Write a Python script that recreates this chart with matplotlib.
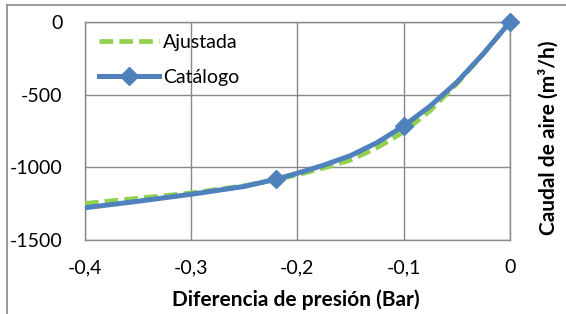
import matplotlib
matplotlib.use('Agg')
import matplotlib.pyplot as plt
from matplotlib.lines import Line2D

# Catalog curve and its marked points
cat_x = [-0.4, -0.35, -0.3, -0.25, -0.22, -0.2, -0.175, -0.15, -0.125, -0.1, -0.075, -0.05, -0.025, 0.0]
cat_y = [-1279, -1234, -1186, -1132, -1082, -1041, -985, -920, -830, -716, -578, -415, -218, 0]
mark_x = [-0.22, -0.1, 0.0]
mark_y = [-1082, -716, 0]

# Fitted curve ("Ajustada")
fit_x = [-0.4, -0.35, -0.3, -0.25, -0.22, -0.2, -0.175, -0.15, -0.125, -0.1, -0.075, -0.05, -0.025, 0.0]
fit_y = [-1249, -1213, -1177, -1127, -1085, -1052, -1005, -950, -865, -757, -610, -425, -218, 0]

blue = '#4F81BD'
green = '#92D050'
grid = '#898989'

plt.rcParams['font.family'] = ['Lato', 'DejaVu Sans']

fig = plt.figure(figsize=(5.66, 3.14), dpi=100)
ax = fig.add_axes([0.150, 0.236, 0.751, 0.694])

ax.plot(fit_x, fit_y, color=green, lw=3.4, dashes=(2.9, 1.3), zorder=3)
ax.plot(cat_x, cat_y, color=blue, lw=3.6, zorder=4)
ax.plot(mark_x, mark_y, ls='none', marker='D', ms=9, color=blue, zorder=5, clip_on=False)

ax.set_xlim(-0.4, 0)
ax.set_ylim(-1500, 0)
ax.set_xticks([-0.4, -0.3, -0.2, -0.1, 0])
ax.set_xticklabels(['-0,4', '-0,3', '-0,2', '-0,1', '0'])
ax.set_yticks([0, -500, -1000, -1500])
ax.set_yticklabels(['0', '-500', '-1000', '-1500'])
ax.tick_params(length=0, labelsize=14, colors='black')
ax.tick_params(axis='x', pad=14)
ax.tick_params(axis='y', pad=16)
ax.grid(True, color=grid, lw=1)
ax.set_axisbelow(True)
for s in ax.spines.values():
    s.set_color(grid)
    s.set_linewidth(1)

fig.text(296 / 566, 1 - 300 / 314, 'Diferencia de presión (Bar)', fontsize=15,
         fontweight='bold', ha='center', va='center')
fig.text(548 / 566, 1 - 138 / 314, 'Caudal de aire (m³/h)', fontsize=15,
         fontweight='bold', ha='center', va='center', rotation=90)

handles = [
    Line2D([], [], color=green, lw=3.4, dashes=(2.9, 1.3)),
    Line2D([], [], color=blue, lw=3.6, marker='D', ms=9),
]
leg = ax.legend(handles, ['Ajustada', 'Catálogo'], loc='upper left',
                bbox_to_anchor=(0.014, 0.982), frameon=False, fontsize=14,
                handlelength=3.1, handletextpad=0.2, labelspacing=0.95,
                borderaxespad=0)

# outer chart border (only left and top visible in the crop)
fig.add_artist(Line2D([0.013, 0.013], [0, 0.985], color=grid, lw=1.2,
                      transform=fig.transFigure))
fig.add_artist(Line2D([0.013, 1.0], [0.985, 0.985], color=grid, lw=1.2,
                      transform=fig.transFigure))

fig.savefig('out.png', dpi=100)
